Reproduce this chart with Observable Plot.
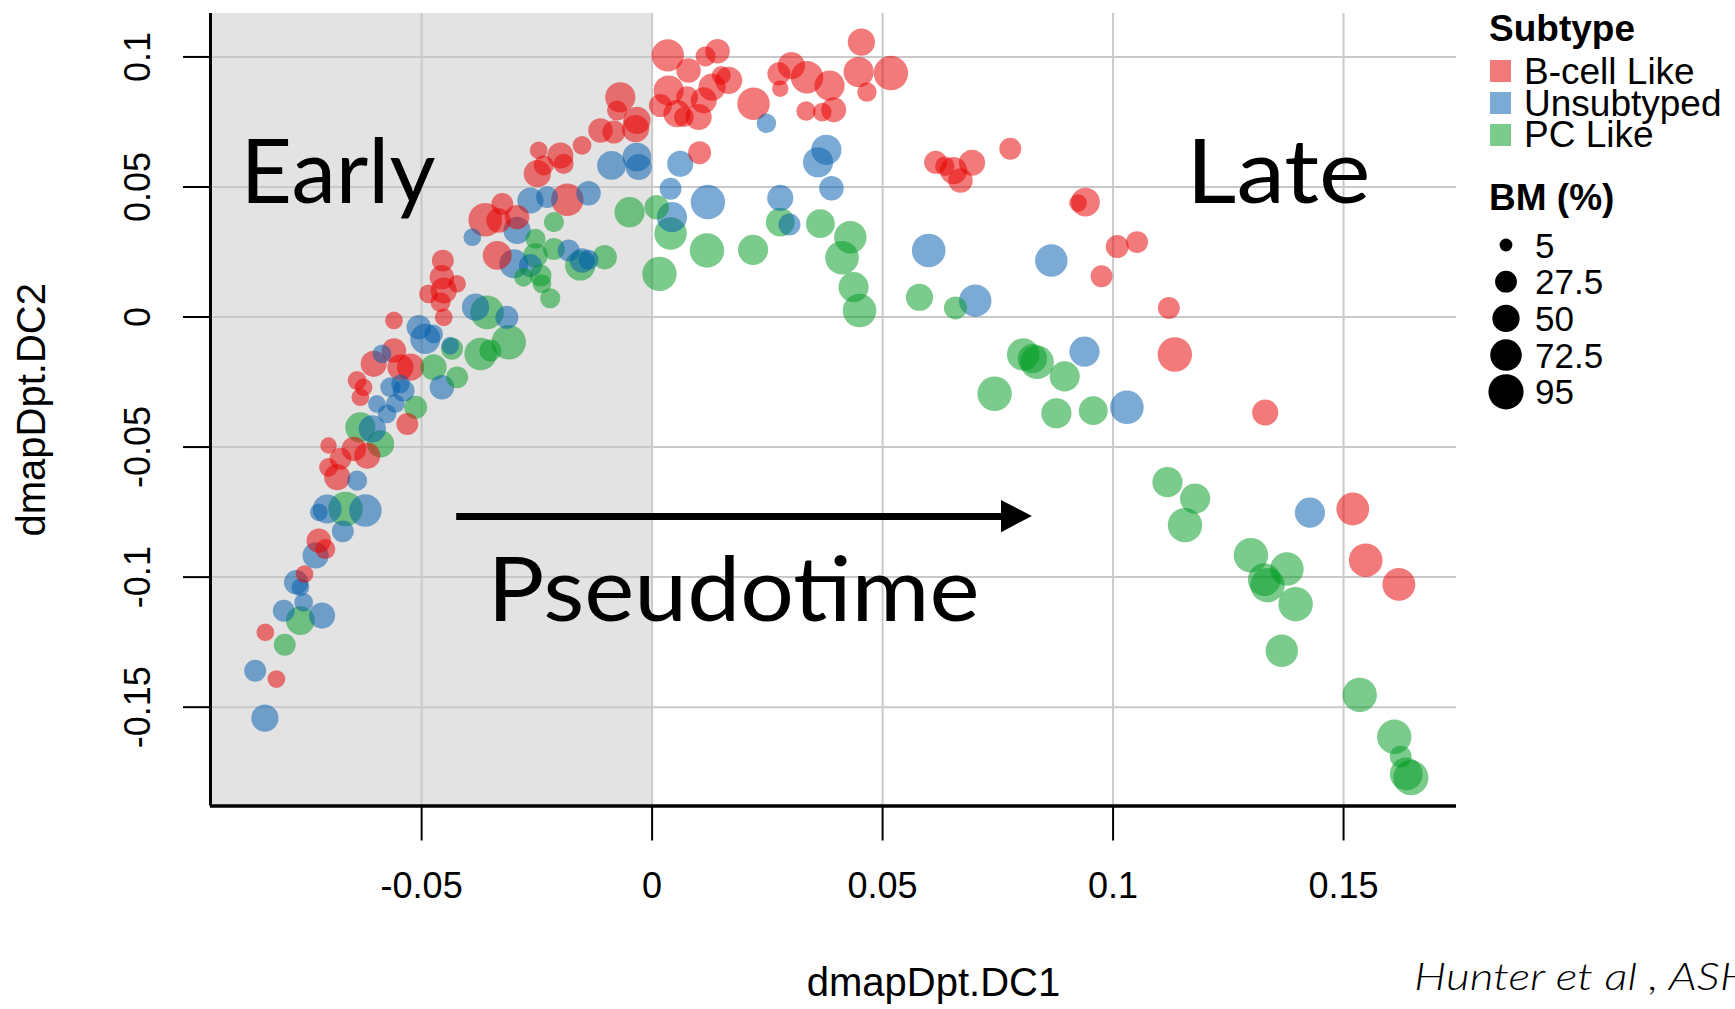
<!DOCTYPE html>
<html><head><meta charset="utf-8">
<script src="https://cdn.jsdelivr.net/npm/d3@7"></script>
<script src="https://cdn.jsdelivr.net/npm/@observablehq/plot@0.6"></script>
<style>
html,body{margin:0;padding:0;background:#fff;overflow:hidden;width:1735px;height:1009px;}
#wrap{position:relative;width:1735px;height:1009px;overflow:hidden;}
#wrap svg{position:absolute;left:0;top:0;}
</style></head><body><div id="wrap"></div>
<script>
// ---------- data ----------
const xTicks = [-0.05, 0, 0.05, 0.1, 0.15];
const yTicks = [-0.15, -0.1, -0.05, 0, 0.05, 0.1];
const xDomain = [-0.0958, 0.1745];
const yDomain = [-0.188, 0.1167];
const subtypes = ["B-cell Like", "Unsubtyped", "PC Like"];
const bmBreaks = [5, 27.5, 50, 72.5, 95];

// [dmapDpt.DC1, dmapDpt.DC2, BM %]
const bcell = [
[0.0034,0.1006,78],[0.0142,0.1022,38],[0.0116,0.1002,22],[0.0079,0.0948,38],[0.0166,0.0910,50],
[0.0036,0.0871,65],[0.0018,0.0813,32],[0.0054,0.0782,50],[0.0101,0.0769,45],[0.0130,0.0884,50],
[0.0112,0.0833,45],[0.0076,0.0845,28],[0.0069,0.0769,22],[0.0150,0.0929,18],[0.0220,0.0820,78],
[0.0302,0.0967,50],[0.0275,0.0935,32],[0.0278,0.0878,12],[0.0336,0.0922,78],[0.0385,0.0890,65],
[0.0334,0.0792,20],[0.0369,0.0788,18],[0.0394,0.0797,40],[0.0454,0.1057,50],[0.0448,0.0942,65],
[0.0518,0.0938,90],[0.0466,0.0865,20],[0.0103,0.0632,32],
[0.0615,0.0595,32],[0.0654,0.0563,50],[0.0694,0.0593,45],[0.0669,0.0525,38],[0.0635,0.0580,20],
[0.0777,0.0647,28],[0.0940,0.0442,58],[0.0924,0.0438,15],[0.1009,0.0271,32],[0.1052,0.0288,28],
[0.0975,0.0157,28],[0.1121,0.0035,28],[0.1134,-0.0144,90],[0.1330,-0.0367,45],[0.1520,-0.0738,80],
[0.1548,-0.0935,85],[0.1620,-0.1028,80],
[-0.0112,0.0717,38],[-0.0083,0.0711,32],[-0.0036,0.0724,50],[-0.0152,0.0660,18],[-0.0246,0.0641,15],
[-0.0199,0.0621,45],[-0.0235,0.0583,22],[-0.0249,0.0551,50],[-0.0192,0.0589,22],[-0.0069,0.0845,65],
[-0.0033,0.0756,50],[-0.0076,0.0794,22],[-0.0184,0.0451,78],[-0.0325,0.0435,28],[-0.0362,0.0374,85],
[-0.0333,0.0371,38],[-0.0293,0.0384,38],[-0.0336,0.0237,58],[-0.0454,0.0217,28],[-0.0456,0.0153,38],
[-0.0452,0.0102,45],[-0.0485,0.0089,18],[-0.0423,0.0128,15],[-0.0459,0.0057,22],[-0.0452,-0.0001,15],
[-0.0524,-0.0193,50],[-0.0531,-0.0411,28],[-0.0560,-0.0013,15],[-0.0604,-0.0180,45],[-0.0640,-0.0244,18],
[-0.0626,-0.0270,15],[-0.0633,-0.0308,15],[-0.0546,-0.0193,45],[-0.0560,-0.0129,38],
[-0.0702,-0.0494,12],[-0.0647,-0.0507,38],[-0.0618,-0.0533,45],[-0.0676,-0.0545,28],[-0.0702,-0.0578,18],
[-0.0683,-0.0616,45],[-0.0723,-0.0860,38],[-0.0709,-0.0892,22],[-0.0754,-0.0988,15],[-0.0839,-0.1212,15],
[-0.0815,-0.1392,15]
];
const unsubtyped = [
[0.0248,0.0745,20],[0.0061,0.0589,45],[0.0040,0.0493,28],[0.0121,0.0442,90],[0.0378,0.0643,65],
[0.0360,0.0595,65],[0.0389,0.0495,38],[0.0278,0.0458,45],[0.0298,0.0356,28],[0.0043,0.0384,65],
[0.0600,0.0256,85],[0.0701,0.0063,78],[0.0866,0.0217,78],[0.0938,-0.0133,65],[0.1030,-0.0347,85],
[0.1427,-0.0752,65],
[-0.0088,0.0583,58],[-0.0033,0.0615,58],[-0.0029,0.0577,45],[-0.0264,0.0448,45],[-0.0228,0.0461,28],
[-0.0138,0.0476,38],[-0.0293,0.0333,50],[-0.0390,0.0307,15],[-0.0181,0.0256,28],[-0.0300,0.0205,58],
[-0.0264,0.0198,32],[-0.0152,0.0217,38],[-0.0138,0.0220,22],[-0.0383,0.0038,50],[-0.0315,-0.0001,32],
[-0.0438,-0.0110,15],[-0.0506,-0.0039,38],[-0.0492,-0.0084,65],[-0.0474,-0.0065,18],[-0.0456,-0.0270,38],
[-0.0539,-0.0283,28],[-0.0586,-0.0142,18],[-0.0597,-0.0334,15],[-0.0568,-0.0270,22],[-0.0546,-0.0257,18],
[-0.0607,-0.0430,50],[-0.0575,-0.0372,18],[-0.0557,-0.0333,18],[-0.0640,-0.0629,22],[-0.0723,-0.0751,15],
[-0.0705,-0.0738,58],[-0.0622,-0.0744,78],[-0.0671,-0.0824,28],[-0.0730,-0.0917,45],[-0.0772,-0.1020,38],
[-0.0763,-0.1039,15],[-0.0756,-0.1097,18],[-0.0799,-0.1129,28],[-0.0716,-0.1148,45],[-0.0861,-0.1360,28],
[-0.0840,-0.1542,50]
];
const pcLike = [
[0.0278,0.0365,58],[0.0365,0.0359,58],[0.0040,0.0321,78],[0.0010,0.0422,38],[0.0119,0.0256,90],
[0.0219,0.0258,65],[0.0430,0.0307,78],[0.0412,0.0228,85],[0.0016,0.0166,90],[0.0437,0.0115,65],
[0.0450,0.0025,85],[0.0580,0.0076,50],[0.0658,0.0035,32],[0.0805,-0.0144,78],[0.0835,-0.0174,85],
[0.0825,-0.0160,60],[0.0895,-0.0228,65],[0.0743,-0.0295,90],[0.0877,-0.0370,65],[0.0957,-0.0360,58],
[0.1118,-0.0635,65],[0.1178,-0.0698,65],[0.1156,-0.0800,90],[0.1299,-0.0916,90],[0.1377,-0.0969,85],
[0.1335,-0.1031,90],[0.1328,-0.1010,80],[0.1396,-0.1104,90],[0.1366,-0.1283,78],[0.1535,-0.1453,90],
[0.1610,-0.1614,90],[0.1624,-0.1690,28],[0.1646,-0.1771,95],[0.1636,-0.1757,80],
[-0.0049,0.0403,65],[-0.0213,0.0365,22],[-0.0253,0.0301,22],[-0.0213,0.0262,28],[-0.0253,0.0237,38],
[-0.0242,0.0160,28],[-0.0279,0.0153,18],[-0.0239,0.0128,18],[-0.0221,0.0072,22],[-0.0156,0.0198,65],
[-0.0103,0.0230,38],[-0.0358,0.0018,85],[-0.0311,-0.0097,90],[-0.0372,-0.0142,78],[-0.0351,-0.0129,28],
[-0.0434,-0.0122,28],[-0.0474,-0.0193,45],[-0.0423,-0.0232,28],[-0.0513,-0.0347,32],[-0.0589,-0.0488,50],
[-0.0633,-0.0424,65],[-0.0665,-0.0738,90],[-0.0763,-0.1167,58],[-0.0797,-0.1260,28]
];

// annotations (data coordinates)
const earlyRegion = [{x1: xDomain[0], x2: 0}];
const annotations = [
  {label: "Early", x: -0.0893, y: 0.0437},
  {label: "Late", x: 0.1159, y: 0.0437},
  {label: "Pseudotime", x: -0.0357, y: -0.1167}
];
const arrowShaft = [{x1: -0.0425, x2: 0.0765, y: -0.0767}];
const arrowHead = [{x: 0.0758, y1: -0.0829, y2: -0.0705}, {x: 0.0825, y1: -0.0767, y2: -0.0767}];

// ---------- styling ----------
const W = 1735, H = 1009;
const subtypeColors = ["#e80000", "#015dac", "#009b22"];
const alpha = 0.52;
const sans = "'Liberation Sans', Arial, Helvetica, sans-serif";
const gothic = "Lato, 'DejaVu Sans', sans-serif";
const stretchWidths = {"Early": 195, "Late": 184, "Pseudotime": 492, "Hunter et al , ASH": 338};

const toRows = (arr, s) => arr.map(([x, y, bm]) => ({x, y, bm, subtype: s}));
const points = [
  ...toRows(pcLike, "PC Like"),
  ...toRows(unsubtyped, "Unsubtyped"),
  ...toRows(bcell, "B-cell Like")
];
const fmt = d => String(d);

const plot = Plot.plot({
  width: W, height: H,
  marginLeft: 210, marginRight: 279, marginTop: 13, marginBottom: 203.5,
  x: {domain: xDomain},
  y: {domain: yDomain},
  r: {type: "sqrt", domain: [5, 95], range: [6.4, 17.6]},
  color: {domain: subtypes, range: subtypeColors},
  style: {fontFamily: sans, background: "transparent", color: "#000"},
  marks: [
    Plot.rect(earlyRegion, {x1: "x1", x2: "x2", fill: "#e3e3e3"}),
    Plot.ruleX(xTicks, {stroke: "#c9c9c9", strokeWidth: 2}),
    Plot.ruleY(yTicks, {stroke: "#c9c9c9", strokeWidth: 2}),
    Plot.dot(points, {x: "x", y: "y", r: "bm", fill: "subtype", fillOpacity: alpha, stroke: null}),
    Plot.text(annotations, {x: "x", y: "y", text: "label", textAnchor: "start", lineAnchor: "bottom",
      fontSize: 89, fontWeight: 400, fontFamily: gothic, fill: "#000"}),
    Plot.link(arrowShaft, {x1: "x1", x2: "x2", y1: "y", y2: "y", stroke: "#000", strokeWidth: 7}),
    Plot.areaY(arrowHead, {x: "x", y1: "y1", y2: "y2", fill: "#000"}),
    Plot.ruleX([xDomain[0]], {stroke: "#000", strokeWidth: 3}),
    Plot.ruleY([yDomain[0]], {stroke: "#000", strokeWidth: 3.5}),
    Plot.axisX(xTicks, {tickSize: 35, tickPadding: 31.5, fontSize: 36, tickFormat: fmt, strokeWidth: 2, label: null}),
    Plot.axisY(yTicks, {tickSize: 27, tickFormat: () => "", strokeWidth: 2, label: null}),
    Plot.text(yTicks, {y: d => d, text: fmt, frameAnchor: "left", textAnchor: "middle", dx: -61, rotate: -90,
      lineAnchor: "bottom", fontSize: 36}),
    Plot.text(["dmapDpt.DC1"], {text: d => d, frameAnchor: "bottom", textAnchor: "middle", dx: 100, dy: 190,
      lineAnchor: "bottom", fontSize: 40}),
    Plot.text(["dmapDpt.DC2"], {text: d => d, frameAnchor: "left", textAnchor: "middle", dx: -166, rotate: -90,
      lineAnchor: "bottom", fontSize: 40})
  ]
});
document.getElementById("wrap").appendChild(plot);

// ---------- legend & caption ----------
const leg = d3.select("#wrap").append("svg").attr("width", W).attr("height", H)
  .style("font-family", sans).style("pointer-events", "none");
leg.append("text").attr("x", 1489).attr("y", 41).attr("font-weight", "bold").attr("font-size", 37).text("Subtype");
subtypes.forEach((s, i) => {
  leg.append("rect").attr("x", 1490).attr("y", 60 + 32 * i).attr("width", 21).attr("height", 22)
    .attr("fill", subtypeColors[i]).attr("fill-opacity", alpha);
  leg.append("text").attr("x", 1524).attr("y", 84 + 31.5 * i).attr("font-size", 37).text(s);
});
leg.append("text").attr("x", 1489).attr("y", 210).attr("font-weight", "bold").attr("font-size", 37).text("BM (%)");
const rScale = plot.scale("r");
bmBreaks.forEach((v, i) => {
  const cy = 245 + 36.7 * i;
  leg.append("circle").attr("cx", 1506).attr("cy", cy).attr("r", rScale.apply(v)).attr("fill", "#000");
  leg.append("text").attr("x", 1535).attr("y", cy + 12.5).attr("font-size", 35).text(String(v));
});
leg.append("text").attr("x", 1414).attr("y", 990).attr("font-size", 38).attr("font-style", "italic")
  .attr("font-weight", 300).attr("font-family", gothic).text("Hunter et al , ASH");

// stretch the wide geometric-font words to the reference widths
d3.selectAll("#wrap text").each(function() {
  const t = this.textContent;
  if (stretchWidths[t]) {
    this.setAttribute("textLength", stretchWidths[t]);
    this.setAttribute("lengthAdjust", "spacingAndGlyphs");
  }
});
</script></body></html>
